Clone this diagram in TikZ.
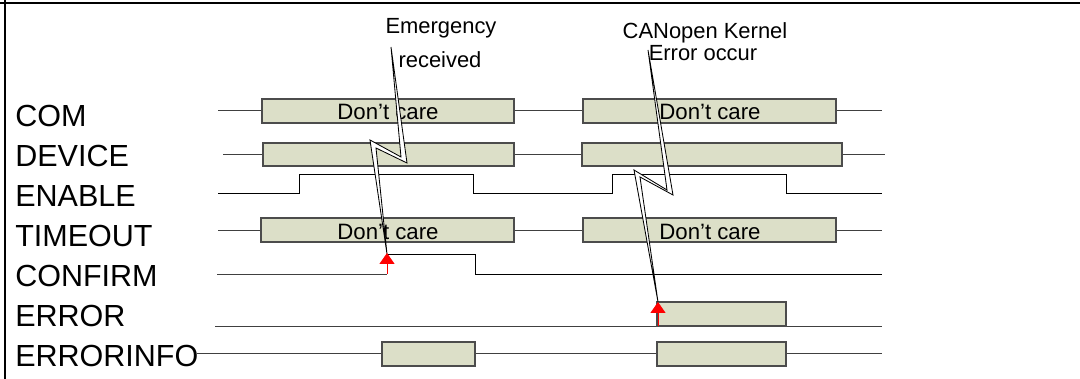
\documentclass[tikz,border=0pt]{standalone}
\usepackage{fontspec}
\setmainfont{Liberation Sans}
\usetikzlibrary{arrows.meta}

\definecolor{boxfill}{HTML}{DCDFC8}
\tikzset{
  sig/.style={draw=black!75, line width=0.6pt},
  dcbox/.style={draw=black!70, fill=boxfill, line width=0.9pt},
  dctext/.style={inner sep=0pt, font=\fontsize{15.8}{19}\selectfont},
  siglabel/.style={anchor=base west, inner sep=0pt, font=\fontsize{21.7}{26}\selectfont},
  note/.style={anchor=base, inner sep=0pt, font=\fontsize{15.6}{19}\selectfont},
  bolt/.style={draw=black, fill=white, line width=0.6pt},
  trig/.style={draw=red, line width=0.7pt, -{Triangle[width=0.37cm,length=0.27cm]}},
}

\begin{document}
\begin{tikzpicture}[x=0.025cm, y=-0.025cm]
    \useasboundingbox (0,0) rectangle (1080,379);
    % frame
    \draw[line width=1.7pt] (0,3) -- (1080,3);
    \draw[line width=1.7pt] (5,0) -- (5,379);

    % signal names
    \foreach \name [count=\i from 0] in {COM,DEVICE,ENABLE,TIMEOUT,CONFIRM,ERROR,ERRORINFO}
      \node[siglabel] (lab\i) at (15,{127+40*\i}) {\name};

    % COM
    \draw[sig] (218,110) -- (882,110);
    \draw[dcbox] (262,99) rectangle (514,123);
    \draw[dcbox] (583,99) rectangle (836,123);
    \node[dctext] (com1) at (388,112) {Don't care};
    \node[dctext] (com2) at (710,112) {Don't care};
    % DEVICE
    \draw[sig] (223,154) -- (885,154);
    \draw[dcbox] (263,143) rectangle (514,166);
    \draw[dcbox] (582,143) rectangle (842,166);
    % ENABLE
    \draw[sig, draw=black] (218,193) -- (299,193) -- (299,174) -- (473,174) -- (473,193)
      -- (612,193) -- (612,174) -- (786,174) -- (786,193) -- (882,193);
    % TIMEOUT
    \draw[sig] (218,230) -- (882,230);
    \draw[dcbox] (261,218) rectangle (514,242);
    \draw[dcbox] (583,218) rectangle (836,242);
    \node[dctext] (tmo1) at (388,232) {Don't care};
    \node[dctext] (tmo2) at (710,232) {Don't care};
    % CONFIRM
    \draw[sig] (217,274) -- (387,274);
    \draw[sig, draw=black] (387,254) -- (475,254) -- (475,274) -- (882,274);
    % ERROR
    \draw[sig] (215,326) -- (882,326);
    \draw[dcbox] (657,302) rectangle (786,326);
    % ERRORINFO
    \draw[sig] (197,353) -- (882,353);
    \draw[dcbox] (382,342) rectangle (475,366);
    \draw[dcbox] (657,342) rectangle (786,366);

    % events
    \node[note] (emg1) at (441,34) {Emergency};
    \node[note] (emg2) at (440,68) {received};
    \node[note] (cok1) at (705,39) {CANopen Kernel};
    \node[note] (cok2) at (703,61) {Error occur};
    \draw[bolt] (391,47) -- (407,163) -- (376,148) -- (387,254) -- (370,140) -- (401,157) -- cycle;
    \draw[bolt] (648,50) -- (673,195) -- (640,177) -- (658,302) -- (634,170) -- (667,190) -- cycle;
    \draw[trig] (387,274) -- (387,253);
    \draw[trig] (658,326) -- (658,302);
\end{tikzpicture}
\end{document}
